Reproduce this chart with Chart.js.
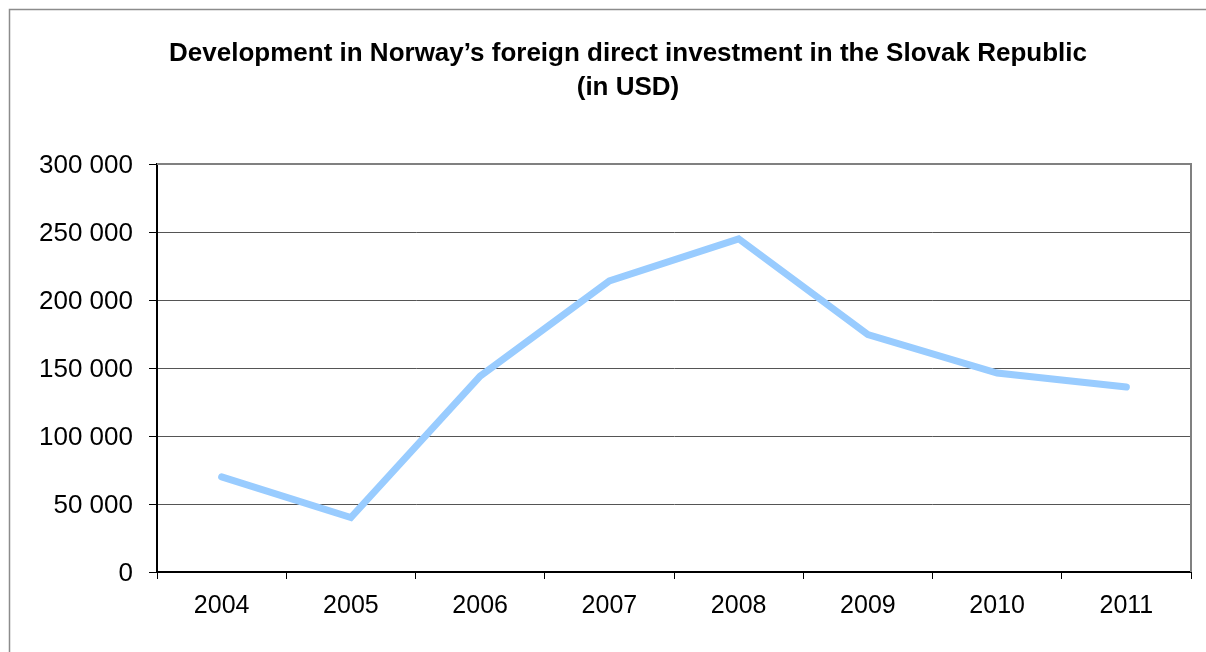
<!DOCTYPE html>
<html><head><meta charset="utf-8">
<script src="https://cdn.jsdelivr.net/npm/chart.js@4/dist/chart.umd.min.js"></script>
<style>html,body{margin:0;padding:0;background:#fff}#wrap{width:1206px;height:652px;position:relative}</style>
</head><body><div id="wrap"><canvas id="c" width="1206" height="652"></canvas></div>
<script>
const categories = ['2004', '2005', '2006', '2007', '2008', '2009', '2010', '2011'];
const fdiValues = [70000, 40000, 144000, 214000, 245000, 174500, 146300, 136000];
const yTicks = [0, 50000, 100000, 150000, 200000, 250000, 300000];
const titleLines = ['Development in Norway\u2019s foreign direct investment in the Slovak Republic', '(in USD)'];

const FONT = '"Liberation Sans", Arial, sans-serif';
Chart.defaults.font.family = FONT;
Chart.defaults.color = '#000';

const fmt = v => String(v).replace(/\B(?=(\d{3})+(?!\d))/g, ' ');

const framePlugin = {
  id: 'frame',
  afterLayout(chart) {
    if (chart.titleBlock) { chart.titleBlock.left = 65; }
  },
  beforeDraw(chart) {
    const ctx = chart.ctx;
    ctx.save();
    ctx.fillStyle = '#fff';
    ctx.fillRect(0, 0, chart.width, chart.height);
    ctx.strokeStyle = '#8c8c8c';
    ctx.lineWidth = 1.5;
    ctx.strokeRect(9.5, 9.5, chart.width + 20, chart.height + 20);
    ctx.restore();
  },
  afterDraw(chart) {
    const a = chart.chartArea, ctx = chart.ctx;
    ctx.save();
    ctx.strokeStyle = '#808080';
    ctx.lineWidth = 2;
    ctx.beginPath();
    ctx.moveTo(a.left, a.top);
    ctx.lineTo(a.right, a.top);
    ctx.lineTo(a.right, a.bottom);
    ctx.stroke();
    ctx.restore();
  }
};

new Chart(document.getElementById('c'), {
  type: 'line',
  data: {
    labels: categories,
    datasets: [{
      data: fdiValues,
      borderColor: '#99CCFF',
      borderWidth: 7,
      pointRadius: 0,
      tension: 0,
      borderCapStyle: 'round',
      borderJoinStyle: 'miter',
      fill: false
    }]
  },
  options: {
    responsive: false,
    animation: false,
    devicePixelRatio: 1,
    layout: { padding: { left: 0, right: 15, top: 0, bottom: 0 } },
    plugins: {
      legend: { display: false },
      tooltip: { enabled: false },
      title: {
        display: true,
        text: titleLines,
        color: '#000',
        font: { family: FONT, size: 26, weight: 'bold', lineHeight: 34 / 26 },
        padding: { top: 37, bottom: 59 }
      }
    },
    scales: {
      x: {
        type: 'category',
        offset: true,
        grid: { offset: true, drawOnChartArea: false, drawTicks: true, tickLength: 7, tickColor: '#000', tickWidth: 1 },
        border: { color: '#000', width: 2 },
        ticks: { font: { size: 25 }, color: '#000', padding: 12, maxRotation: 0, autoSkip: false },
        afterFit(s) { s.height = 80; }
      },
      y: {
        min: 0,
        max: 300000,
        grid: { color: '#555', lineWidth: 1, drawTicks: true, tickLength: 8, tickColor: '#000' },
        border: { color: '#000', width: 2 },
        ticks: { font: { size: 26 }, color: '#000', padding: 16, labelOffset: 2, callback: v => fmt(v) },
        afterBuildTicks(s) { s.ticks = yTicks.map(v => ({ value: v })); },
        afterFit(s) { s.width = 157; }
      }
    }
  },
  plugins: [framePlugin]
});
</script>
</body></html>
